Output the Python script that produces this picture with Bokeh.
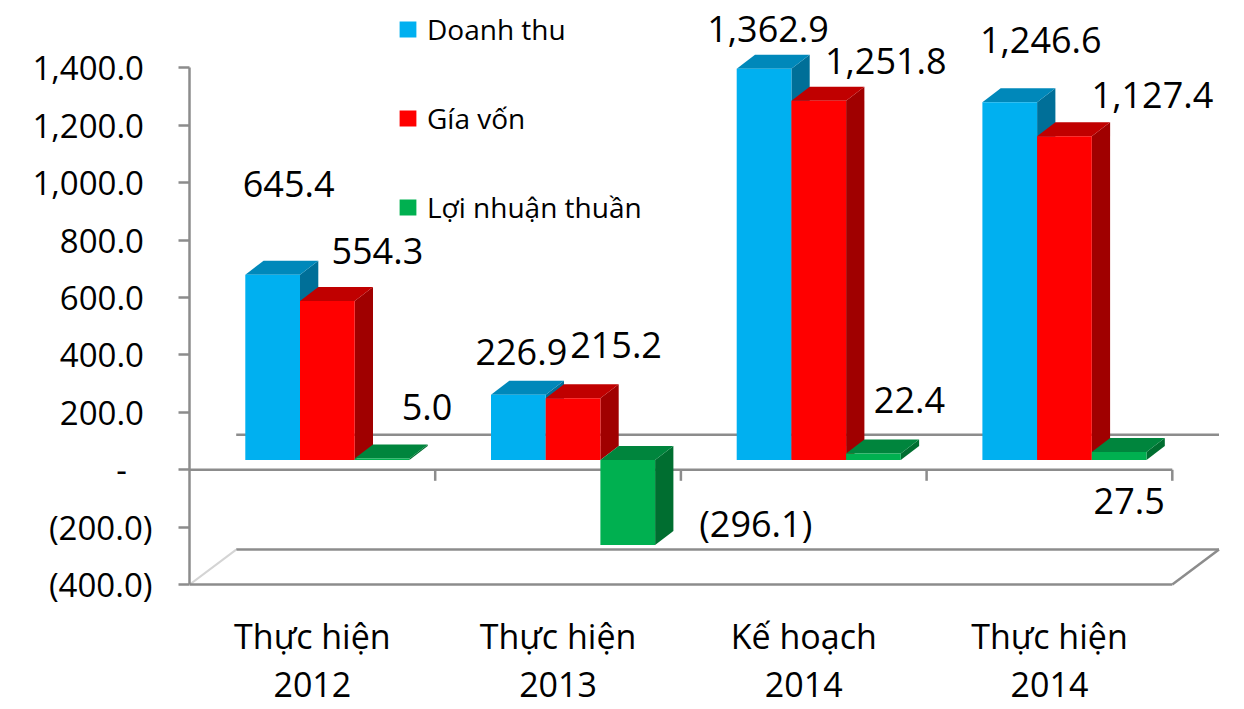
from bokeh.plotting import figure
from bokeh.models import Range1d, FixedTicker, Legend, LegendItem, ColumnDataSource
from bokeh.core.properties import value
from bokeh.embed import file_html
from bokeh.resources import INLINE

# ---------------- data ----------------
cat_line1 = ["Thực hiện", "Thực hiện", "Kế hoạch", "Thực hiện"]
cat_line2 = ["2012", "2013", "2014", "2014"]
doanh_thu = [645.4, 226.9, 1362.9, 1246.6]
gia_von = [554.3, 215.2, 1251.8, 1127.4]
loi_nhuan = [5.0, -296.1, 22.4, 27.5]
series_names = ["Doanh thu", "Gía vốn", "Lợi nhuận thuần"]
y_ticks = [-400, -200, 0, 200, 400, 600, 800, 1000, 1200, 1400]

# ---------------- style ----------------
FONT = "Open Sans"
front_colors = ["#00B0F0", "#FF0000", "#00B050"]
top_colors = ["#0088BA", "#C00000", "#00853D"]
side_colors = ["#006F98", "#A00000", "#006E30"]
GRID = "#8C8C8C"

PX_X = 245.7        # px per category
PX_Y = 0.28706      # px per value unit
ZERO_Y = 469.3      # screen y of the value 0
W, H = 1236, 709
LEFT = 189
x_range = Range1d(0, (W - LEFT) / PX_X)
y_range = Range1d((ZERO_Y - H) / PX_Y, ZERO_Y / PX_Y)

# 3d projection constants
DX = 46.7 / PX_X          # full depth, horizontal
DY = 35.0 / PX_Y          # full depth, vertical
BAR_W = 54.7 / PX_X
GROUP_OFF = 15.0 / PX_X
BASE = 9.8 / PX_Y
BDX = 18.3 / PX_X
BDY = 14.0 / PX_Y

# label pixel offsets (dx, dy) per series/category
label_offsets = [
    [(16, -91), (3, -43), (4, -40), (31, -62)],
    [(50, -50), (43, -53), (67, -40), (88, -41)],
    [(45, -52), (128, -21), (36, -54), (10, 49)],
]


def fmt(v):
    s = format(abs(v), ",.1f")
    return "(" + s + ")" if v < 0 else s


def tick_fmt(v):
    if v == 0:
        return "-\u00a0\u00a0\u00a0"
    if v < 0:
        return "(" + format(-v, ",.1f") + ")"
    return format(v, ",.1f") + "\u00a0"


p = figure(width=W, height=H, x_range=x_range, y_range=y_range,
           output_backend="svg", toolbar_location=None,
           x_axis_location=None, y_axis_location="left",
           min_border_left=LEFT, min_border_right=0, min_border_top=0, min_border_bottom=0)
p.outline_line_color = None
p.xgrid.visible = False
p.ygrid.visible = False
p.background_fill_color = "white"
p.border_fill_color = "white"

ax = p.yaxis[0]
ax.ticker = FixedTicker(ticks=y_ticks)
ax.major_label_overrides = {t: tick_fmt(t) for t in y_ticks}
ax.bounds = (y_ticks[0], y_ticks[-1])
ax.axis_line_color = GRID
ax.axis_line_width = 2.5
ax.major_tick_line_color = GRID
ax.major_tick_line_width = 2.5
ax.major_tick_out = 11
ax.major_tick_in = 0
ax.minor_tick_line_color = None
ax.major_label_standoff = 26
ax.major_label_text_font = FONT
ax.major_label_text_font_size = "33px"
ax.major_label_text_color = "black"

ncat = len(cat_line1)
lo = y_ticks[0]

# ---- walls / floor ----
p.segment(x0=[DX], y0=[DY], x1=[ncat + DX], y1=[DY], line_color=GRID, line_width=2.5)
p.segment(x0=[DX, ncat], y0=[lo + DY, lo], x1=[ncat + DX, ncat + DX], y1=[lo + DY, lo + DY],
          line_color=GRID, line_width=2.5)
p.segment(x0=[0], y0=[lo], x1=[DX], y1=[lo + DY], line_color="#D4D4D4", line_width=2)
p.segment(x0=[0], y0=[lo], x1=[ncat], y1=[lo], line_color=GRID, line_width=2.5)
p.segment(x0=[0], y0=[0], x1=[ncat], y1=[0], line_color=GRID, line_width=2.5)
p.segment(x0=list(range(1, ncat + 1)), y0=[0] * ncat, x1=list(range(1, ncat + 1)),
          y1=[-11 / PX_Y] * ncat, line_color=GRID, line_width=2.5)

# ---- bars ----
legend_items = []
all_series = [doanh_thu, gia_von, loi_nhuan]
lab_x, lab_y, lab_t, lab_dx, lab_dy = [], [], [], [], []
for i, vals in enumerate(all_series):
    lefts, rights, bots, tops = [], [], [], []
    txs, tys, sxs, sys_ = [], [], [], []
    for j, v in enumerate(vals):
        l = j + 0.5 + GROUP_OFF - 1.5 * BAR_W + i * BAR_W
        r = l + BAR_W
        b = BASE + min(v, 0)
        t = BASE + max(v, 0)
        lefts.append(l); rights.append(r); bots.append(b); tops.append(t)
        txs.append([l, r, r + BDX, l + BDX]); tys.append([t, t, t + BDY, t + BDY])
        sxs.append([r, r + BDX, r + BDX, r]); sys_.append([b, b + BDY, t + BDY, t])
        lab_x.append((l + r) / 2); lab_y.append(BASE + v); lab_t.append(fmt(v))
        lab_dx.append(label_offsets[i][j][0]); lab_dy.append(label_offsets[i][j][1])
    p.patches(xs=sxs, ys=sys_, fill_color=side_colors[i], line_color=None)
    p.patches(xs=txs, ys=tys, fill_color=top_colors[i], line_color=None)
    fr = p.quad(left=lefts, right=rights, bottom=bots, top=tops,
                fill_color=front_colors[i], line_color=None)
    legend_items.append(LegendItem(label=series_names[i], renderers=[fr]))

# ---- data labels ----
src = ColumnDataSource(dict(x=lab_x, y=lab_y, t=lab_t, dx=lab_dx, dy=lab_dy))
p.text(x="x", y="y", text="t", x_offset="dx", y_offset="dy", source=src,
       text_font=value(FONT), text_font_size="36px", text_color="black",
       text_align="center", text_baseline="middle")

# ---- category labels ----
cx = [j + 0.5 for j in range(ncat)]
p.text(x=cx, y=[lo] * ncat, text=cat_line1, y_offset=51, text_font=value(FONT),
       text_font_size="34px", text_color="black", text_align="center", text_baseline="middle")
p.text(x=cx, y=[lo] * ncat, text=cat_line2, y_offset=100, text_font=value(FONT),
       text_font_size="34px", text_color="black", text_align="center", text_baseline="middle")

# ---- legend ----
legend = Legend(items=legend_items, location=(208, H - 8 - 219), orientation="vertical",
                glyph_width=21, glyph_height=20, label_height=40, spacing=49,
                padding=0, margin=0, label_standoff=9,
                label_text_font=FONT, label_text_font_size="28px",
                label_text_color="black",
                border_line_color=None, background_fill_alpha=0)
p.add_layout(legend)

open("out.html", "w").write(file_html(p, INLINE))
